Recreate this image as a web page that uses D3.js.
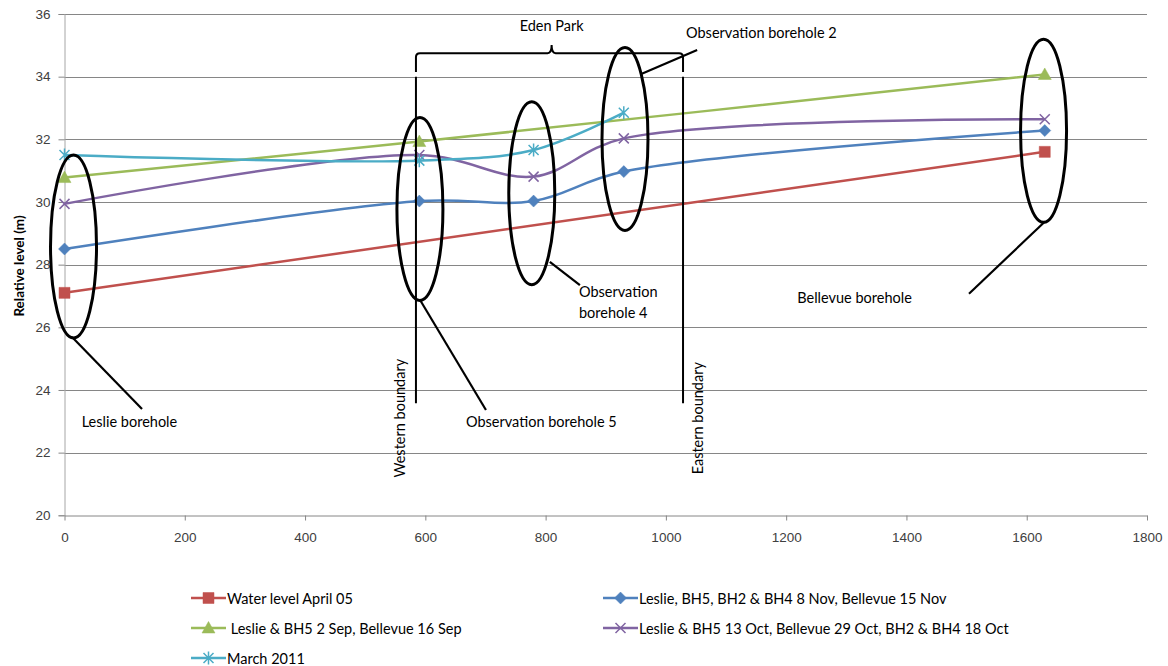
<!doctype html>
<html lang="en">
<head>
<meta charset="utf-8">
<script src="https://d3js.org/d3.v7.min.js"></script>
<title>Relative water levels</title>
<style>
  body { margin: 0; background: #fff; }
  svg { display: block; font-family: Lato, "Open Sans", sans-serif; }
  .tick text { fill: #404040; font-size: 13.5px; }
  .note { font-size: 14.5px; fill: #000; }
  .legend text { font-size: 14.5px; fill: #000; white-space: pre; }
</style>
</head>
<body>
<div id="chart"></div>
<script>
// distances along the section (m) where the boreholes sit
const distances = [0, 590, 780, 930, 1630];

// relative water levels (m), null = not measured
const waterApr05 = [27.1, null, null, null, 31.6];
const nov = [28.5, 30.03, 30.03, 30.97, 32.28];
const sep = [30.78, 31.93, null, null, 34.07];
const oct = [29.94, 31.5, 30.81, 32.03, 32.64];
const mar2011 = [31.5, 31.32, 31.66, 32.85, null];

const seriesNames = [
  "Water level April 05",
  "Leslie, BH5, BH2 & BH4 8 Nov, Bellevue 15 Nov",
  " Leslie & BH5 2 Sep, Bellevue 16 Sep",
  "Leslie & BH5 13 Oct, Bellevue 29 Oct, BH2 & BH4 18 Oct",
  "March 2011"
];

const xTicks = [0, 200, 400, 600, 800, 1000, 1200, 1400, 1600, 1800];
const yTicks = [20, 22, 24, 26, 28, 30, 32, 34, 36];

const W = 1168, H = 666;
const x = d3.scaleLinear().domain([0, 1800]).range([64.5, 1147]);
const y = d3.scaleLinear().domain([20, 36]).range([515.3, 14]);

const svg = d3.select('#chart').append('svg')
  .attr('width', W).attr('height', H);

// gridlines
svg.append('g')
  .selectAll('line')
  .data(yTicks.slice(1))
  .enter().append('line')
  .attr('x1', x(0)).attr('x2', x(1800))
  .attr('y1', d => Math.round(y(d)) + 0.5).attr('y2', d => Math.round(y(d)) + 0.5)
  .attr('stroke', '#868686').attr('stroke-width', 1.2);

const yAxis = svg.append('g')
  .attr('transform', 'translate(' + (Math.round(x(0)) - 0.5) + ',0)')
  .call(d3.axisLeft(y).tickValues(yTicks).tickSize(6).tickPadding(8).tickFormat(d3.format('d')));
yAxis.select('.domain').attr('stroke', '#a6a6a6');
yAxis.selectAll('.tick line').attr('stroke', '#868686');

const xAxis = svg.append('g')
  .attr('transform', 'translate(0,' + (Math.round(y(20)) + 0.5) + ')')
  .call(d3.axisBottom(x).tickValues(xTicks).tickSize(5).tickSizeOuter(0).tickPadding(12).tickFormat(d3.format('d')));
xAxis.select('.domain').attr('stroke', '#868686');
xAxis.selectAll('.tick line').attr('stroke', '#868686');

svg.append('text')
  .attr('transform', 'translate(19,266) rotate(-90)')
  .attr('text-anchor', 'middle')
  .attr('dominant-baseline', 'central')
  .style('font-size', '13.5px').style('font-weight', 'bold')
  .text('Relative level (m)');

// marker shapes
const shapes = {
  square: 'M-5.5,-5.5h11v11h-11z',
  diamond: 'M0,-6L6,0L0,6L-6,0Z',
  triangle: 'M0,-6.5L6.5,5L-6.5,5Z',
  cross: 'M-5,-5L5,5M-5,5L5,-5',
  star: 'M-5,-5L5,5M-5,5L5,-5M0,-6.5V6.5'
};

const series = [
  { name: seriesNames[0], values: waterApr05, color: '#C0504D', shape: 'square', fill: true },
  { name: seriesNames[1], values: nov, color: '#4F81BD', shape: 'diamond', fill: true },
  { name: seriesNames[2], values: sep, color: '#9BBB59', shape: 'triangle', fill: true },
  { name: seriesNames[3], values: oct, color: '#8064A2', shape: 'cross', fill: false },
  { name: seriesNames[4], values: mar2011, color: '#4BACC6', shape: 'star', fill: false }
];

function marker(sel, s) {
  sel.attr('d', shapes[s.shape])
    .attr('fill', s.fill ? s.color : 'none')
    .attr('stroke', s.color)
    .attr('stroke-width', s.fill ? 0.5 : 1.5);
}

// smoothed lines like the spreadsheet's
const line = d3.line()
  .x(d => x(d[0]))
  .y(d => y(d[1]))
  .curve(d3.curveCatmullRom.alpha(0.5));

series.forEach(s => {
  const pts = distances.map((d, i) => [d, s.values[i]]).filter(p => p[1] != null);
  const g = svg.append('g');
  g.append('path')
    .attr('d', line(pts))
    .attr('fill', 'none')
    .attr('stroke', s.color)
    .attr('stroke-width', 2.5);
  g.selectAll('path.pt')
    .data(pts)
    .enter().append('path')
    .attr('class', 'pt')
    .attr('transform', d => 'translate(' + x(d[0]) + ',' + y(d[1]) + ')')
    .call(marker, s);
});

// annotations, placed in data units
const circled = [[15, 28.58], [591, 29.78], [777, 30.28], [932, 32.01], [1628, 32.27]];
const leaders = [
  [[12.5, 25.69], [128.9, 23.39]],
  [[591, 26.88], [700.8, 23.36]],
  [[807, 28.09], [857, 27.35]],
  [[960, 34.09], [1052, 34.85]],
  [[1630, 29.37], [1504, 27.07]]
];
const notes = [
  { t: 'Leslie borehole', x: 28.6, y: 23.0 },
  { t: 'Observation borehole 5', x: 667.6, y: 23.0 },
  { t: 'Observation', x: 855.5, y: 27.13 },
  { t: 'borehole 4', x: 855.5, y: 26.46 },
  { t: 'Observation borehole 2', x: 1033.5, y: 35.4 },
  { t: 'Bellevue borehole', x: 1218.5, y: 26.94 }
];
const boundaries = [
  { t: 'Western boundary', x: 584.4, tx: 557.8 },
  { t: 'Eastern boundary', x: 1028.5, tx: 1053.3 }
];

const ann = svg.append('g').attr('stroke', '#000').attr('fill', 'none');

ann.selectAll('ellipse')
  .data(circled)
  .enter().append('ellipse')
  .attr('cx', d => x(d[0])).attr('cy', d => y(d[1]))
  .attr('rx', 23).attr('ry', 91.5)
  .attr('stroke-width', 3);

ann.selectAll('line.lead')
  .data(leaders)
  .enter().append('line')
  .attr('class', 'lead')
  .attr('x1', d => x(d[0][0])).attr('y1', d => y(d[0][1]))
  .attr('x2', d => x(d[1][0])).attr('y2', d => y(d[1][1]))
  .attr('stroke-width', 2.2);

ann.selectAll('line.bound')
  .data(boundaries)
  .enter().append('line')
  .attr('class', 'bound')
  .attr('x1', d => x(d.x)).attr('x2', d => x(d.x))
  .attr('y1', y(34.0)).attr('y2', y(23.58))
  .attr('stroke-width', 2);

// Eden Park bracket
const bl = x(584.4), br = x(1028.5), bm = x(810);
const by = y(34.75), byLeg = y(34.15), byTip = y(35.01);
ann.append('path')
  .attr('d', 'M' + bl + ',' + byLeg + 'V' + (by + 4) + 'Q' + bl + ',' + by + ' ' + (bl + 4) + ',' + by +
    'H' + (bm - 4) + 'Q' + bm + ',' + by + ' ' + bm + ',' + byTip +
    'Q' + bm + ',' + by + ' ' + (bm + 4) + ',' + by +
    'H' + (br - 4) + 'Q' + br + ',' + by + ' ' + br + ',' + (by + 4) + 'V' + byLeg)
  .attr('stroke-width', 2);

const txt = svg.append('g');
txt.selectAll('text.note')
  .data(notes)
  .enter().append('text')
  .attr('class', 'note')
  .attr('x', d => x(d.x)).attr('y', d => y(d.y))
  .attr('dominant-baseline', 'central')
  .text(d => d.t);

txt.append('text')
  .attr('class', 'note')
  .attr('x', bm).attr('y', y(35.62))
  .attr('text-anchor', 'middle')
  .attr('dominant-baseline', 'central')
  .text('Eden Park');

txt.selectAll('text.bnd')
  .data(boundaries)
  .enter().append('text')
  .attr('class', 'note bnd')
  .attr('transform', d => 'translate(' + x(d.tx) + ',' + y(23.1) + ') rotate(-90)')
  .attr('text-anchor', 'middle')
  .attr('dominant-baseline', 'central')
  .text(d => d.t);

// legend, two columns
const legendPos = [[191, 598], [603, 598], [191, 628], [603, 628], [191, 658]];
const legend = svg.append('g').attr('class', 'legend');
series.forEach((s, i) => {
  const g = legend.append('g')
    .attr('transform', 'translate(' + legendPos[i][0] + ',' + legendPos[i][1] + ')');
  g.append('line')
    .attr('x1', 0).attr('x2', 35)
    .attr('stroke', s.color).attr('stroke-width', 2.5);
  g.append('path')
    .attr('transform', 'translate(17.5,0)')
    .call(marker, s);
  g.append('text')
    .attr('x', 36).attr('dominant-baseline', 'central')
    .text(s.name);
});
</script>
</body>
</html>
